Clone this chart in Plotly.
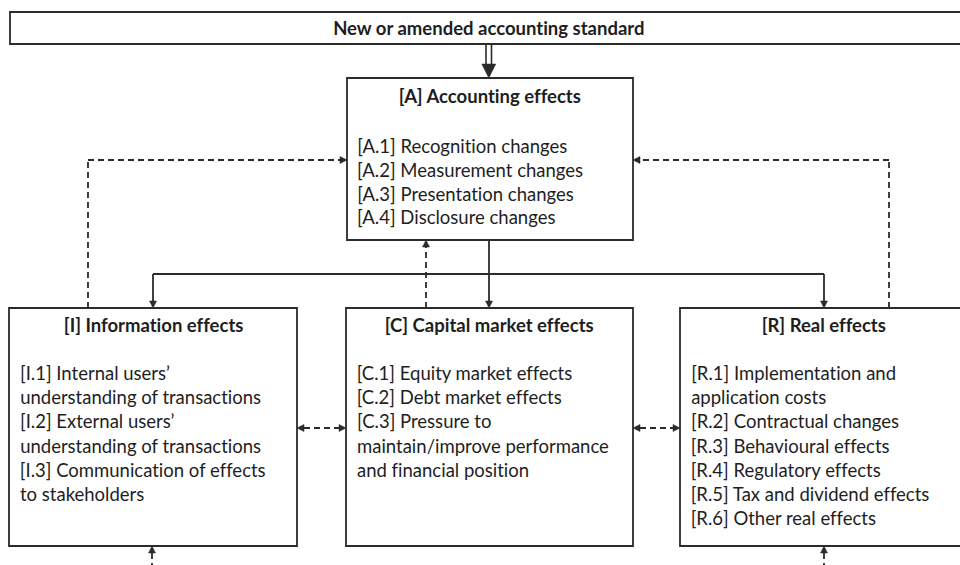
import plotly.graph_objects as go

# ---- content ----
top_title = "New or amended accounting standard"
a_title = "[A] Accounting effects"
a_items = ["[A.1] Recognition changes", "[A.2] Measurement changes",
           "[A.3] Presentation changes", "[A.4] Disclosure changes"]
i_title = "[I] Information effects"
i_items = ["[I.1] Internal users\u2019", "understanding of transactions",
           "[I.2] External users\u2019", "understanding of transactions",
           "[I.3] Communication of effects", "to stakeholders"]
c_title = "[C] Capital market effects"
c_items = ["[C.1] Equity market effects", "[C.2] Debt market effects",
           "[C.3] Pressure to", "maintain/improve performance",
           "and financial position"]
r_title = "[R] Real effects"
r_items = ["[R.1] Implementation and", "application costs",
           "[R.2] Contractual changes", "[R.3] Behavioural effects",
           "[R.4] Regulatory effects", "[R.5] Tax and dividend effects",
           "[R.6] Other real effects"]

# ---- layout geometry (pixels) ----
W, H = 960, 565
LC = "#2b2b2b"
TC = "#1e1e1e"
FONT = "Lato"
FS = 18.5
LW = 1.8

boxes = {
    "top": (10, 12, 968, 44),
    "A": (347, 78, 633, 240),
    "I": (9, 308, 297, 546),
    "C": (346, 308, 633, 546),
    "R": (680, 308, 968, 546),
}

shapes = []
annots = []

def line(x0, y0, x1, y1, dash=None, w=LW):
    d = dict(type="line", x0=x0, y0=y0, x1=x1, y1=y1, xref="x", yref="y",
             line=dict(color=LC, width=w))
    if dash:
        d["line"]["dash"] = dash
    shapes.append(d)

def head(x, y, direction, L=7, hw=3.5):
    if direction == "down":
        pts = [(x, y), (x - hw, y - L), (x + hw, y - L)]
    elif direction == "up":
        pts = [(x, y), (x - hw, y + L), (x + hw, y + L)]
    elif direction == "right":
        pts = [(x, y), (x - L, y - hw), (x - L, y + hw)]
    else:
        pts = [(x, y), (x + L, y - hw), (x + L, y + hw)]
    path = "M " + " L ".join(f"{px},{py}" for px, py in pts) + " Z"
    shapes.append(dict(type="path", path=path, xref="x", yref="y",
                       fillcolor=LC, line=dict(color=LC, width=0.5)))

for k, (x0, y0, x1, y1) in boxes.items():
    shapes.append(dict(type="rect", x0=x0, y0=y0, x1=x1, y1=y1, xref="x", yref="y",
                       line=dict(color=LC, width=LW), fillcolor="rgba(0,0,0,0)"))

def text(x, y, s, bold=False, anchor="left", size=FS):
    annots.append(dict(x=x, y=y, xref="x", yref="y", text=(f"<b>{s}</b>" if bold else s),
                       showarrow=False, xanchor=anchor, yanchor="middle",
                       font=dict(family=FONT, size=size, color=TC)))

# titles
text(489, 28, top_title, bold=True, anchor="center")
text(490, 96, a_title, bold=True, anchor="center")
text(153, 325, i_title, bold=True, anchor="center")
text(489, 325, c_title, bold=True, anchor="center")
text(824, 325, r_title, bold=True, anchor="center")

def items(x, y0, lst, step=24.2):
    for i, s in enumerate(lst):
        text(x, y0 + i * step, s)

items(355, 146, a_items, step=23.8)
items(18, 373, i_items)
items(355, 373, c_items)
items(689, 373, r_items)

# double arrow from top box to A
line(486, 44, 486, 65, w=1.6)
line(491.5, 44, 491.5, 65, w=1.6)
head(488.8, 78, "down", L=14, hw=7)

DASH = "6px,4px"
# A -> C solid
line(489, 240, 489, 301)
head(489, 308, "down")
# distribution line
line(153, 274, 824, 274)
line(153, 274, 153, 301)
head(153, 308, "down")
line(824, 274, 824, 301)
head(824, 308, "down")
# C -> A dashed
line(426, 308, 426, 247, dash=DASH)
head(426, 240, "up")
# I -> A dashed
line(88, 308, 88, 160, dash=DASH)
line(88, 160, 340, 160, dash=DASH)
head(347, 160, "right")
# R -> A dashed
line(889, 308, 889, 160, dash=DASH)
line(889, 160, 640, 160, dash=DASH)
head(633, 160, "left")
# I <-> C, C <-> R
line(304, 428, 339, 428, dash=DASH)
head(297, 428, "left")
head(346, 428, "right")
line(640, 428, 673, 428, dash=DASH)
head(633, 428, "left")
head(680, 428, "right")
# bottom arrows into I and R
line(152, 553, 152, 565, dash=DASH)
head(152, 546, "up")
line(824, 553, 824, 565, dash=DASH)
head(824, 546, "up")

fig = go.Figure()
fig.update_layout(
    width=W, height=H, margin=dict(l=0, r=0, t=0, b=0),
    paper_bgcolor="white", plot_bgcolor="white",
    xaxis=dict(range=[0, W], visible=False, fixedrange=True),
    yaxis=dict(range=[H, 0], visible=False, fixedrange=True),
    shapes=shapes, annotations=annots, showlegend=False,
)
post = (
    "document.body.style.margin='0';document.body.style.overflow='hidden';"
    "var st=document.createElement('style');"
    "st.textContent='text{font-variant-ligatures:none !important;font-feature-settings:\"liga\" 0,\"clig\" 0 !important;}';"
    "document.head.appendChild(st);"
)
fig.write_html("out.html", config={"displayModeBar": False}, post_script=post)
